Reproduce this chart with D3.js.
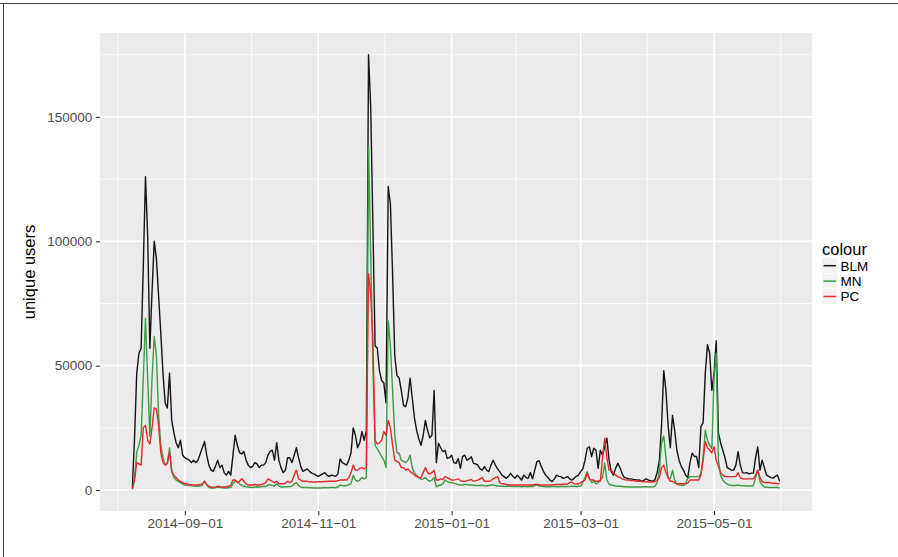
<!DOCTYPE html>
<html>
<head>
<meta charset="utf-8">
<script src="https://cdn.jsdelivr.net/npm/d3@7"></script>
<style>
  body { margin: 0; background: #fff; }
  svg { display: block; font-family: "Liberation Sans", Arial, sans-serif; }
</style>
</head>
<body>
<div id="chart"></div>
<script>
// daily values, first day below (in thousands of users)
const startDate = "2014-08-08";
const seriesNames = ["BLM", "MN", "PC"];
const seriesColors = ["#141414", "#3c9c46", "#e8282c"];

const blm = [
  1, 21, 47, 55, 57, 90, 126, 102, 57, 80,
  100, 93, 78, 63, 47, 35, 33, 47, 28, 23,
  19, 17, 20, 14, 13, 12.5, 12, 11, 12, 11,
  12, 14.5, 17, 19.5, 14, 10, 8, 7.5, 9.5, 12,
  9, 10, 7, 6, 7.5, 6, 14, 22, 18, 15,
  14.5, 15.5, 12, 10, 9, 9.5, 11, 10.5, 9, 10,
  10, 11, 14, 15.5, 16, 12, 19, 12, 9, 7,
  8, 13, 13, 11, 14, 17, 13, 9.5, 7.5, 8,
  8.5, 7.5, 6.8, 6.5, 6, 5.5, 6, 6.5, 7, 6,
  5.5, 6, 5.8, 5.5, 6.5, 12.5, 11, 10.5, 10, 12,
  15, 25, 22, 17, 19, 23.5, 20, 24, 175, 154,
  106, 58, 57, 48, 44, 43, 35, 122, 115, 87,
  54, 46, 45, 40, 34, 33.5, 37, 45, 37, 29,
  24, 20.5, 18, 22, 28, 24, 21, 22, 40, 11,
  18.8, 17, 15.4, 16, 12.7, 13, 14, 11, 10.7, 12.7,
  8.7, 13.4, 14, 12, 12.5, 13.4, 10.7, 10.5, 10, 8.5,
  8, 9.4, 8, 7.4, 10, 12, 10, 8.5, 7.4, 6,
  5.4, 4.7, 5.5, 6.7, 5.5, 4.7, 6, 5, 4, 6,
  5, 4.7, 7, 4.5, 8, 11.4, 11.8, 9.5, 7.5, 6,
  5, 4, 3.4, 4.5, 6, 5.5, 5.4, 4.7, 5, 5.4,
  4.5, 4, 4.7, 5.5, 6, 7.4, 8.5, 12, 16.8, 17.4,
  13.4, 16.8, 16, 8.7, 16, 14, 17.4, 20.8, 12, 7.4,
  6, 8.8, 10.7, 9, 6.5, 5, 4.8, 4.5, 4.5, 4.3,
  4.2, 4, 4, 3.5, 4, 4.5, 4, 3.8, 3.5, 4.2,
  7, 12, 26, 48, 40, 26, 17, 30, 24, 16,
  12, 9.5, 8, 6, 5, 11, 14.8, 13.5, 13.5, 9,
  25.5, 27, 47, 58.4, 55, 40, 47, 60, 23, 19,
  16, 13, 9, 8.5, 8, 8, 10, 15.4, 10, 7,
  6.8, 7, 6.5, 6.8, 6.8, 13, 17.4, 8, 12, 9,
  6, 5.5, 5, 4.8, 5.5, 6, 3.5
];

const mn = [
  0.5, 5, 15, 18, 22, 45, 69, 45, 21.5, 45,
  61.7, 54, 30, 18, 13, 10, 10.5, 17, 7.5, 5,
  4, 3.5, 3, 2.5, 2, 2, 1.8, 1.8, 1.6, 1.5,
  1.5, 1.6, 2, 3.5, 2, 1, 0.8, 0.8, 0.9, 1.2,
  1, 0.9, 0.8, 0.8, 0.9, 1, 2.5, 3.5, 3.5, 2.5,
  2, 1.5, 1.3, 1.2, 1.1, 1, 1.2, 1.3, 1.2, 1.3,
  1.5, 1.4, 2, 2.2, 1.8, 1.5, 2.5, 1.6, 1.2, 1.2,
  1.3, 1.3, 1.4, 1.5, 2.5, 3, 1.8, 1.2, 1, 1,
  1, 0.9, 0.9, 0.8, 0.8, 0.8, 0.8, 0.9, 1, 0.9,
  0.9, 1, 1, 0.9, 1.2, 2, 1.8, 1.7, 1.8, 2.2,
  2.5, 6, 4, 3.5, 4, 5, 4.5, 5, 138, 94,
  50, 18, 16.5, 15, 13.4, 12, 9, 68, 58, 40,
  22, 15, 14.8, 12, 11.5, 11, 12, 14, 9, 7,
  6, 5, 4.3, 4.5, 5, 4, 3.5, 4, 5, 1.3,
  1.8, 2, 2.5, 4, 3.5, 3, 3, 2.8, 2.5, 2.2,
  2, 2, 2.2, 2.2, 2, 2, 1.9, 1.8, 1.8, 1.8,
  1.9, 1.7, 1.6, 1.8, 2, 2, 1.8, 1.6, 1.5, 1.5,
  1.5, 1.4, 1.5, 1.5, 1.4, 1.4, 1.5, 1.4, 1.3, 1.4,
  1.4, 1.3, 1.5, 1.4, 1.8, 2, 1.6, 1.5, 1.4, 1.3,
  1.3, 1.3, 1.4, 1.4, 1.3, 1.3, 1.4, 1.4, 1.3, 1.4,
  1.4, 1.5, 1.5, 1.4, 1.5, 1.6, 3, 5, 7.4, 4.5,
  3, 3.5, 2.5, 3, 4, 5, 10.7, 4, 2.5, 2,
  1.8, 1.6, 1.5, 1.5, 1.4, 1.3, 1.3, 1.2, 1.2, 1.2,
  1.2, 1.2, 1.2, 1.2, 1.3, 1.3, 1.2, 1.2, 1.3, 1.5,
  3, 8, 19, 21.7, 13, 5, 4.5, 8, 4, 2.5,
  2, 2, 1.8, 2.5, 4.7, 5.4, 5.4, 5.4, 5.4, 5.4,
  6.7, 13, 24, 20, 18, 16.8, 45, 55, 12, 6,
  4, 3, 2.5, 2, 1.8, 1.8, 1.8, 2, 1.8, 1.7,
  1.7, 1.6, 1.6, 1.6, 1.8, 5, 8, 3.5, 2, 1.2,
  1.1, 1, 1, 1, 1, 1, 0.8
];

const pc = [
  0.3, 4, 11, 10.5, 10, 25, 26, 20, 18.5, 25,
  33, 32.5, 26, 15, 11, 10, 11, 15, 7.5, 6,
  5, 4, 3.5, 3, 2.5, 2.5, 2.2, 2, 2, 2,
  2, 2.2, 2.5, 3.5, 2.2, 1.5, 1.2, 1, 1.2, 1.5,
  1.3, 1.2, 1.2, 1.3, 1.5, 2, 4, 4, 3, 3.5,
  4.5, 3.5, 2.5, 2, 2, 2, 2.2, 2, 2, 2.2,
  2.5, 3, 4.5, 4, 3.5, 3, 3.5, 2.5, 2.5, 2.5,
  2.8, 3.5, 3, 3.5, 6, 8, 4.5, 4, 3.5, 3.5,
  3.5, 3.3, 3.2, 3.2, 3.2, 3.3, 3.3, 3.3, 3.4, 3.4,
  3.5, 3.5, 3.5, 3.5, 3.8, 4, 4, 4, 4, 5,
  7, 10, 8, 8, 8.7, 9, 8.5, 9, 87, 79,
  60, 20, 18.5, 19, 20, 23.5, 22, 28, 25, 18,
  12, 11.5, 11, 9, 9, 8, 8.5, 7.5, 6.8, 6,
  5.5, 5, 5, 7, 9, 7, 6.5, 7, 8, 4,
  4, 4.5, 4.2, 5.4, 5, 4.5, 4, 4, 4.2, 4.5,
  3.8, 3.5, 3.5, 3.8, 4, 4.2, 3.5, 3.8, 4, 4.5,
  5, 3.5, 3.5, 3.5, 3.8, 4.5, 5, 5.4, 3, 2.5,
  2.5, 2.2, 2, 2, 2, 2, 2, 2, 2, 2,
  2, 2, 2, 2, 2.2, 2.2, 2.1, 2, 2, 2,
  2, 2, 2.1, 2.1, 2.2, 2.2, 2.2, 2.3, 2.3, 2.3,
  3, 3.2, 2.5, 2.4, 2.5, 3, 3.5, 4, 6.7, 4.5,
  4, 4, 3.5, 3.5, 3.5, 13, 20.8, 13, 8, 8,
  6.7, 6, 5.4, 5, 4.5, 4.2, 4, 4, 3.8, 3.8,
  3.6, 3.5, 3.5, 3.4, 3.3, 3.3, 3.2, 3.2, 3.2, 3.5,
  4, 5, 9, 10, 7, 5, 3.5, 3.5, 3, 2.5,
  2.5, 2.5, 2.5, 2.5, 2.8, 4, 4, 4, 4, 4,
  6, 12, 19.5, 17, 16, 15, 17.4, 12, 9.5, 7,
  6, 5.4, 5.4, 5.4, 5.4, 5.4, 5.5, 7, 5, 4.5,
  4.5, 4.5, 4.5, 4.5, 4.5, 6, 8, 5, 3.5, 3,
  3, 3, 2.8, 2.7, 2.7, 2.5, 2.5
];

const xTicks = ["2014-09-01", "2014-11-01", "2015-01-01", "2015-03-01", "2015-05-01"];
const yTicks = [0, 50000, 100000, 150000];
const yMinor = [25000, 75000, 125000, 175000];

const width = 898;
const height = 557;
const panel = { left: 100, right: 812, top: 33, bottom: 511 };

const parse = d3.utcParse("%Y-%m-%d");
const start = parse(startDate);
const dayOf = i => d3.utcDay.offset(start, i);

const series = [blm, mn, pc].map((vals, k) => ({
    name: seriesNames[k],
    color: seriesColors[k],
    values: vals.map((v, i) => ({ date: dayOf(i), value: v * 1000 }))
}));

const svg = d3.select("#chart")
    .append("svg")
    .attr("width", width)
    .attr("height", height);

svg.append("rect").attr("width", width).attr("height", height).attr("fill", "#fff");

// ggplot style 5% expansion on both scales
const xExt = d3.extent(series[0].values, d => d.date);
const xPad = (xExt[1] - xExt[0]) * 0.05;
const x = d3.scaleUtc()
    .domain([new Date(+xExt[0] - xPad), new Date(+xExt[1] + xPad)])
    .range([panel.left, panel.right]);

const allVals = series.flatMap(s => s.values.map(d => d.value));
const yMin = d3.min(allVals), yMax = d3.max(allVals);
const yPad = (yMax - yMin) * 0.05;
const y = d3.scaleLinear()
    .domain([yMin - yPad, yMax + yPad])
    .range([panel.bottom, panel.top]);

// panel
svg.append("rect")
    .attr("x", panel.left)
    .attr("y", panel.top)
    .attr("width", panel.right - panel.left)
    .attr("height", panel.bottom - panel.top)
    .attr("fill", "#ebebeb");

// minor breaks sit halfway between majors (and half a step past the ends)
const xMajor = xTicks.map(parse);
const xMinor = [];
xMajor.forEach((t, i) => {
    if (i === 0) xMinor.push(new Date(+t - (xMajor[1] - t) / 2));
    if (i < xMajor.length - 1) xMinor.push(new Date((+t + +xMajor[i + 1]) / 2));
    else xMinor.push(new Date(+t + (t - xMajor[i - 1]) / 2));
});

const grid = svg.append("g");
grid.selectAll("line.xminor")
    .data(xMinor.filter(d => x(d) > panel.left && x(d) < panel.right))
    .enter().append("line")
    .attr("x1", d => x(d)).attr("x2", d => x(d))
    .attr("y1", panel.top).attr("y2", panel.bottom)
    .attr("stroke", "#fff").attr("stroke-width", 0.8);
grid.selectAll("line.yminor")
    .data(yMinor.filter(d => y(d) > panel.top && y(d) < panel.bottom))
    .enter().append("line")
    .attr("x1", panel.left).attr("x2", panel.right)
    .attr("y1", d => y(d)).attr("y2", d => y(d))
    .attr("stroke", "#fff").attr("stroke-width", 0.8);
grid.selectAll("line.xmajor")
    .data(xMajor)
    .enter().append("line")
    .attr("x1", d => x(d)).attr("x2", d => x(d))
    .attr("y1", panel.top).attr("y2", panel.bottom)
    .attr("stroke", "#fff").attr("stroke-width", 1.6);
grid.selectAll("line.ymajor")
    .data(yTicks)
    .enter().append("line")
    .attr("x1", panel.left).attr("x2", panel.right)
    .attr("y1", d => y(d)).attr("y2", d => y(d))
    .attr("stroke", "#fff").attr("stroke-width", 1.6);

// lines
const line = d3.line()
    .x(d => x(d.date))
    .y(d => y(d.value));

svg.append("g")
    .selectAll("path")
    .data(series)
    .enter().append("path")
    .attr("d", d => line(d.values))
    .attr("fill", "none")
    .attr("stroke", d => d.color)
    .attr("stroke-width", 1.4)
    .attr("stroke-linejoin", "round");

// axes
const fmtDate = d3.utcFormat("%Y-%m-%d");
const xAxis = svg.append("g")
    .attr("transform", `translate(0,${panel.bottom})`)
    .call(d3.axisBottom(x).tickValues(xMajor).tickFormat(d => fmtDate(d).replace(/-/g, "\u2212")).tickSize(4.2).tickPadding(3.5));
const yAxis = svg.append("g")
    .attr("transform", `translate(${panel.left},0)`)
    .call(d3.axisLeft(y).tickValues(yTicks).tickFormat(d3.format("d")).tickSize(4.2).tickPadding(3.5));

[xAxis, yAxis].forEach(a => {
    a.select(".domain").remove();
    a.selectAll(".tick line").attr("stroke", "#333333").attr("stroke-width", 1.1);
    a.selectAll(".tick text")
        .attr("fill", "#4d4d4d")
        .attr("font-size", "13.5px")
        .attr("font-family", "Liberation Sans, Arial, sans-serif");
});

// axis title
svg.append("text")
    .attr("transform", `translate(35,${(panel.top + panel.bottom) / 2}) rotate(-90)`)
    .attr("text-anchor", "middle")
    .attr("font-size", "16.5px")
    .attr("fill", "#000")
    .text("unique users");

// legend
const legend = svg.append("g").attr("transform", "translate(822,258)");
legend.append("text")
    .attr("x", 0)
    .attr("y", -3)
    .attr("font-size", "16.5px")
    .attr("fill", "#000")
    .text("colour");

const keyH = 15.4;
seriesNames.forEach((name, i) => {
    const g = legend.append("g").attr("transform", `translate(0,${i * keyH})`);
    g.append("rect")
        .attr("width", keyH).attr("height", keyH)
        .attr("fill", "#f2f2f2").attr("stroke", "#fff").attr("stroke-width", 0.5);
    g.append("line")
        .attr("x1", 1.5).attr("x2", keyH - 1.5)
        .attr("y1", keyH / 2).attr("y2", keyH / 2)
        .attr("stroke", seriesColors[i]).attr("stroke-width", 1.5);
    g.append("text")
        .attr("x", keyH + 3)
        .attr("y", keyH / 2)
        .attr("dy", "0.36em")
        .attr("font-size", "13.5px")
        .attr("fill", "#000")
        .text(name);
});

// outer frame of the figure
svg.append("line").attr("x1", 0).attr("x2", width).attr("y1", 3.5).attr("y2", 3.5)
    .attr("stroke", "#444").attr("stroke-width", 1);
svg.append("line").attr("x1", 3.5).attr("x2", 3.5).attr("y1", 3).attr("y2", height)
    .attr("stroke", "#444").attr("stroke-width", 1);
</script>
</body>
</html>
